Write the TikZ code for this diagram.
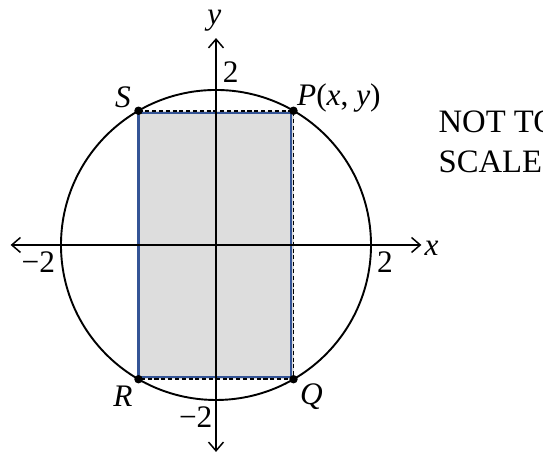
\documentclass[tikz,border=0pt]{standalone}
\usepackage{fontspec}
\setmainfont{Liberation Serif}
\usetikzlibrary{arrows.meta}
\definecolor{rectblue}{RGB}{52,84,150}
\definecolor{rectgray}{RGB}{221,221,221}
\tikzset{
  axis/.style={line width=0.55pt, -{Straight Barb[length=3.2pt,width=5.5pt]}},
  lbl/.style={inner sep=0pt, anchor=base, font=\fontsize{11.5}{13}\selectfont},
  dot/.style={circle, fill=black, inner sep=0pt, minimum size=3.1pt}
}
\begin{document}
\begin{tikzpicture}[x=1cm,y=1cm]
    \useasboundingbox (-2.787,-2.697) rectangle (4.219,3.161);
    % 顶点
    \coordinate (O) at (0,0);
    \coordinate (P) at (1,1.732);
    \coordinate (Q) at (1,-1.732);
    \coordinate (R) at (-1,-1.732);
    \coordinate (S) at (-1,1.732);

    % 矩形
    \fill[rectgray] (R) rectangle (P);
    \draw[rectblue, line width=0.8pt] ([yshift=0.8pt]R) -- ([shift={(-0.8pt,0.8pt)}]Q)
        -- ([shift={(-0.8pt,-0.8pt)}]P) -- ([yshift=-0.8pt]S) -- cycle;
    \draw[line width=0.7pt, dash pattern=on 1.5pt off 1pt] (S) -- (P) -- (Q) -- (R);

    % 坐标轴
    \coordinate (xl) at (-2.65,0);
    \coordinate (xr) at (2.65,0);
    \coordinate (yb) at (0,-2.67);
    \coordinate (yt) at (0,2.67);
    \draw[axis] (O) -- (xl);
    \draw[axis] (O) -- (xr);
    \draw[axis] (O) -- (yb);
    \draw[axis] (O) -- (yt);

    % 圆
    \draw[line width=0.7pt] (O) circle (2);

    % 点
    \foreach \p in {P,Q,R,S} {
        \node[dot] at (\p) {};
    }

    % 标签
    \node[lbl] (xlab) at (2.78,-0.13) {\textit{x}};
    \node[lbl] (ylab) at (-0.02,2.85) {\textit{y}};
    \node[lbl] (ytop) at (0.19,2.09) {2};
    \node[lbl, anchor=base east] (ybot) at (-0.04,-2.36) {−2};
    \node[lbl, anchor=base east] (xleft) at (-2.07,-0.36) {−2};
    \node[lbl] (xright) at (2.18,-0.36) {2};
    \node[lbl] (Slab) at (-1.2,1.78) {\textit{S}};
    \node[lbl, anchor=base west] (Plab) at (1.04,1.806) {\textit{P}(\textit{x}, \textit{y})};
    \node[lbl] (Rlab) at (-1.2,-2.09) {\textit{R}};
    \node[lbl] (Qlab) at (1.23,-2.06) {\textit{Q}};

    % 说明
    \node[lbl, anchor=base west, font=\fontsize{12}{14}\selectfont] (note1) at (2.865,1.445) {NOT TO};
    \node[lbl, anchor=base west, font=\fontsize{12}{14}\selectfont] (note2) at (2.865,0.94) {SCALE};
\end{tikzpicture}
\end{document}
